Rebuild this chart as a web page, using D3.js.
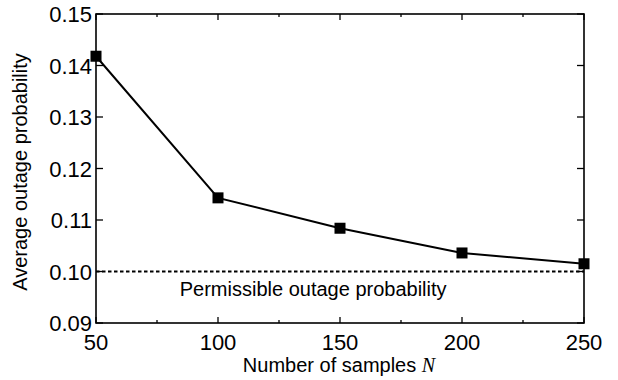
<!DOCTYPE html>
<html>
<head>
<meta charset="utf-8">
<script src="https://cdn.jsdelivr.net/npm/d3@7"></script>
<style>
  body { margin: 0; background: #fff; }
  svg { display: block; font-family: "Liberation Sans", Arial, sans-serif; }
</style>
</head>
<body>
<div id="chart"></div>
<script>
// data
const samples = [50, 100, 150, 200, 250];
const outageProb = [0.1418, 0.1143, 0.1084, 0.1036, 0.1015];
const permissible = 0.10;
const xTicks = [50, 100, 150, 200, 250];
const xMinorTicks = [75, 125, 175, 225];
const yTicks = [0.09, 0.10, 0.11, 0.12, 0.13, 0.14, 0.15];

const W = 618, H = 380;
const margin = {top: 14, right: 34, bottom: 57, left: 96};
const width = W - margin.left - margin.right;
const height = H - margin.top - margin.bottom;

const svg = d3.select("#chart").append("svg")
    .attr("width", W)
    .attr("height", H);

const g = svg.append("g")
    .attr("transform", "translate(" + margin.left + "," + margin.top + ")");

const x = d3.scaleLinear().domain([50, 250]).range([0, width]);
const y = d3.scaleLinear().domain([0.09, 0.15]).range([height, 0]);

// ticks (inward, on all four sides)
const tickG = g.append("g").attr("stroke", "#000").attr("stroke-width", 1.3);
xTicks.forEach(v => {
    tickG.append("line").attr("x1", x(v)).attr("x2", x(v)).attr("y1", height).attr("y2", height - 6);
    tickG.append("line").attr("x1", x(v)).attr("x2", x(v)).attr("y1", 0).attr("y2", 6);
});
xMinorTicks.forEach(v => {
    tickG.append("line").attr("x1", x(v)).attr("x2", x(v)).attr("y1", height).attr("y2", height - 3);
    tickG.append("line").attr("x1", x(v)).attr("x2", x(v)).attr("y1", 0).attr("y2", 3);
});
yTicks.forEach(v => {
    tickG.append("line").attr("x1", 0).attr("x2", 7).attr("y1", y(v)).attr("y2", y(v));
    tickG.append("line").attr("x1", width).attr("x2", width - 7).attr("y1", y(v)).attr("y2", y(v));
});

// tick labels
g.selectAll(".xlab").data(xTicks).enter().append("text")
    .attr("class", "xlab")
    .attr("x", d => x(d))
    .attr("y", height + 27)
    .attr("text-anchor", "middle")
    .attr("font-size", 22)
    .text(d => d);

g.selectAll(".ylab").data(yTicks).enter().append("text")
    .attr("class", "ylab")
    .attr("x", -4)
    .attr("y", d => y(d) + 8)
    .attr("text-anchor", "end")
    .attr("font-size", 22)
    .text(d => d3.format(".2f")(d));

// permissible level
g.append("line")
    .attr("x1", 0).attr("x2", width)
    .attr("y1", y(permissible)).attr("y2", y(permissible))
    .attr("stroke", "#000")
    .attr("stroke-width", 2)
    .attr("stroke-dasharray", "3.5,2.5");

g.append("text")
    .attr("x", x(139))
    .attr("y", y(0.0952))
    .attr("text-anchor", "middle")
    .attr("font-size", 20)
    .text("Permissible outage probability");

// series
const pts = samples.map((s, i) => ({n: s, p: outageProb[i]}));
const line = d3.line().x(d => x(d.n)).y(d => y(d.p));

g.append("path")
    .datum(pts)
    .attr("fill", "none")
    .attr("stroke", "#000")
    .attr("stroke-width", 2)
    .attr("d", line);

const m = 11;
g.selectAll(".mark").data(pts).enter().append("rect")
    .attr("class", "mark")
    .attr("x", d => x(d.n) - m / 2)
    .attr("y", d => y(d.p) - m / 2)
    .attr("width", m)
    .attr("height", m)
    .attr("fill", "#000");

// frame
g.append("rect")
    .attr("width", width).attr("height", height)
    .attr("fill", "none")
    .attr("stroke", "#000")
    .attr("stroke-width", 1.6);

// axis titles
const xt = svg.append("text")
    .attr("x", 339)
    .attr("y", 372)
    .attr("text-anchor", "middle")
    .attr("font-size", 20);
xt.append("tspan").text("Number of samples ");
xt.append("tspan")
    .attr("font-family", "'Liberation Serif', 'Times New Roman', serif")
    .attr("font-style", "italic")
    .text("N");

svg.append("text")
    .attr("transform", "translate(27,172) rotate(-90)")
    .attr("text-anchor", "middle")
    .attr("font-size", 20)
    .text("Average outage probability");
</script>
</body>
</html>
